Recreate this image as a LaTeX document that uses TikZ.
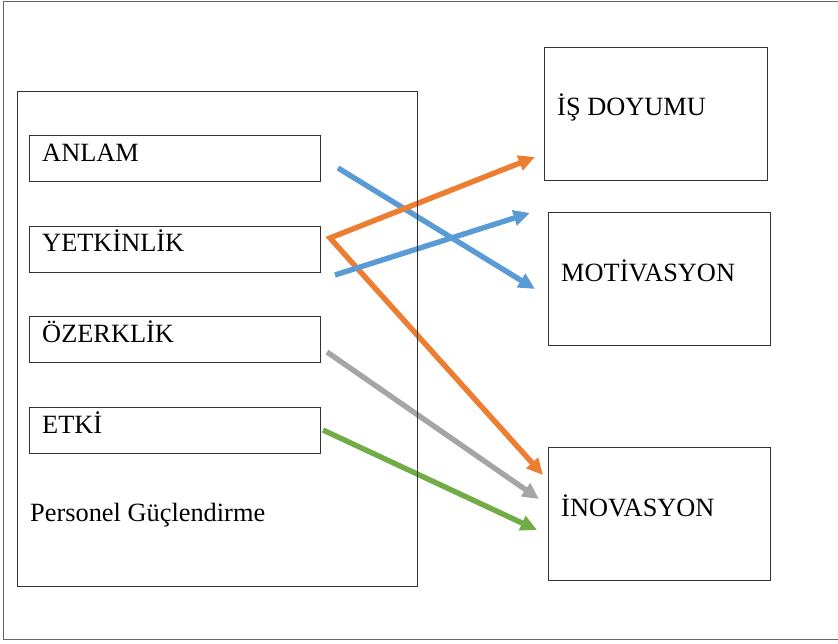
\documentclass[tikz,border=0pt]{standalone}
\usepackage{fontspec}
\setmainfont{Liberation Serif}
\usetikzlibrary{calc, arrows.meta, positioning}

\definecolor{mavi}{HTML}{5B9BD5}
\definecolor{turuncu}{HTML}{ED7D31}
\definecolor{gri}{HTML}{A5A5A5}
\definecolor{yesil}{HTML}{70AD47}

\tikzset{
  kutu/.style={draw=black!80, line width=0.8pt, anchor=north west, inner sep=0pt},
  yazi/.style={anchor=base west, inner sep=0pt, font=\rmfamily\fontsize{22.5}{26}\selectfont},
  ucok/.tip={Triangle[length=14pt, width=13pt]},
  ok/.style={line width=4.6pt, -ucok}
}

\begin{document}
\begin{tikzpicture}[x=0.03cm, y=-0.03cm]
        \useasboundingbox (0,0) rectangle (838,644);
        % outer frame
        \draw[black!60, line width=0.8pt] (840,1) -- (3,1) -- (3,639) -- (840,639);
        %\draw[very thin,color=gray] (0,0) grid[step=50] (838,644);
        % arrow ends
        \coordinate (anlamUc) at (338,168);
        \coordinate (yetkinUc) at (330,238);
        \coordinate (yetkinUc2) at (335,275);
        \coordinate (ozerkUc) at (327,352);
        \coordinate (etkiUc) at (323,430);
        \coordinate (doyumOk) at (535,157);
        \coordinate (motivOk1) at (530,213);
        \coordinate (motivOk2) at (535,289);
        \coordinate (inovOk1) at (543,475);
        \coordinate (inovOk2) at (539,499);
        \coordinate (inovOk3) at (537,530);
        % arrows
        \draw[ok, color=mavi] (anlamUc) -- (motivOk2);
        \draw[ok, color=turuncu, line join=miter, ucok-ucok] (doyumOk) -- (yetkinUc) -- (inovOk1);
        \draw[ok, color=mavi] (yetkinUc2) -- (motivOk1);
        \draw[ok, color=gri] (ozerkUc) -- (inovOk2);
        \draw[ok, color=yesil] (etkiUc) -- (inovOk3);
        % left side
        \node[kutu, minimum width=12cm, minimum height=14.85cm] (guclendirme) at (17,91) {};
        \node[kutu, minimum width=8.73cm, minimum height=1.38cm] (anlamKutu) at (29,135) {};
        \node[kutu, minimum width=8.73cm, minimum height=1.38cm] (yetkinKutu) at (29,226) {};
        \node[kutu, minimum width=8.73cm, minimum height=1.38cm] (ozerkKutu) at (29,316) {};
        \node[kutu, minimum width=8.73cm, minimum height=1.38cm] (etkiKutu) at (29,407) {};
        \node[yazi] (anlam) at ($(anlamKutu.north west)+(13,26)$) {ANLAM};
        \node[yazi] (yetkin) at ($(yetkinKutu.north west)+(13,25)$) {YETKİNLİK};
        \node[yazi] (ozerk) at ($(ozerkKutu.north west)+(13,26)$) {ÖZERKLİK};
        \node[yazi] (etki) at ($(etkiKutu.north west)+(13,26)$) {ETKİ};
        \node[yazi] (personel) at (30,521) {Personel Güçlendirme};
        % right side
        \node[kutu, minimum width=6.69cm, minimum height=3.99cm] (doyumKutu) at (544,47) {};
        \node[kutu, minimum width=6.66cm, minimum height=3.99cm] (motivKutu) at (548,212) {};
        \node[kutu, minimum width=6.66cm, minimum height=3.99cm] (inovKutu) at (548,447) {};
        \node[yazi] (doyum) at ($(doyumKutu.north west)+(13,68)$) {İŞ DOYUMU};
        \node[yazi] (motiv) at ($(motivKutu.north west)+(13,69)$) {MOTİVASYON};
        \node[yazi] (inov) at ($(inovKutu.north west)+(13,69)$) {İNOVASYON};
\end{tikzpicture}
\end{document}
